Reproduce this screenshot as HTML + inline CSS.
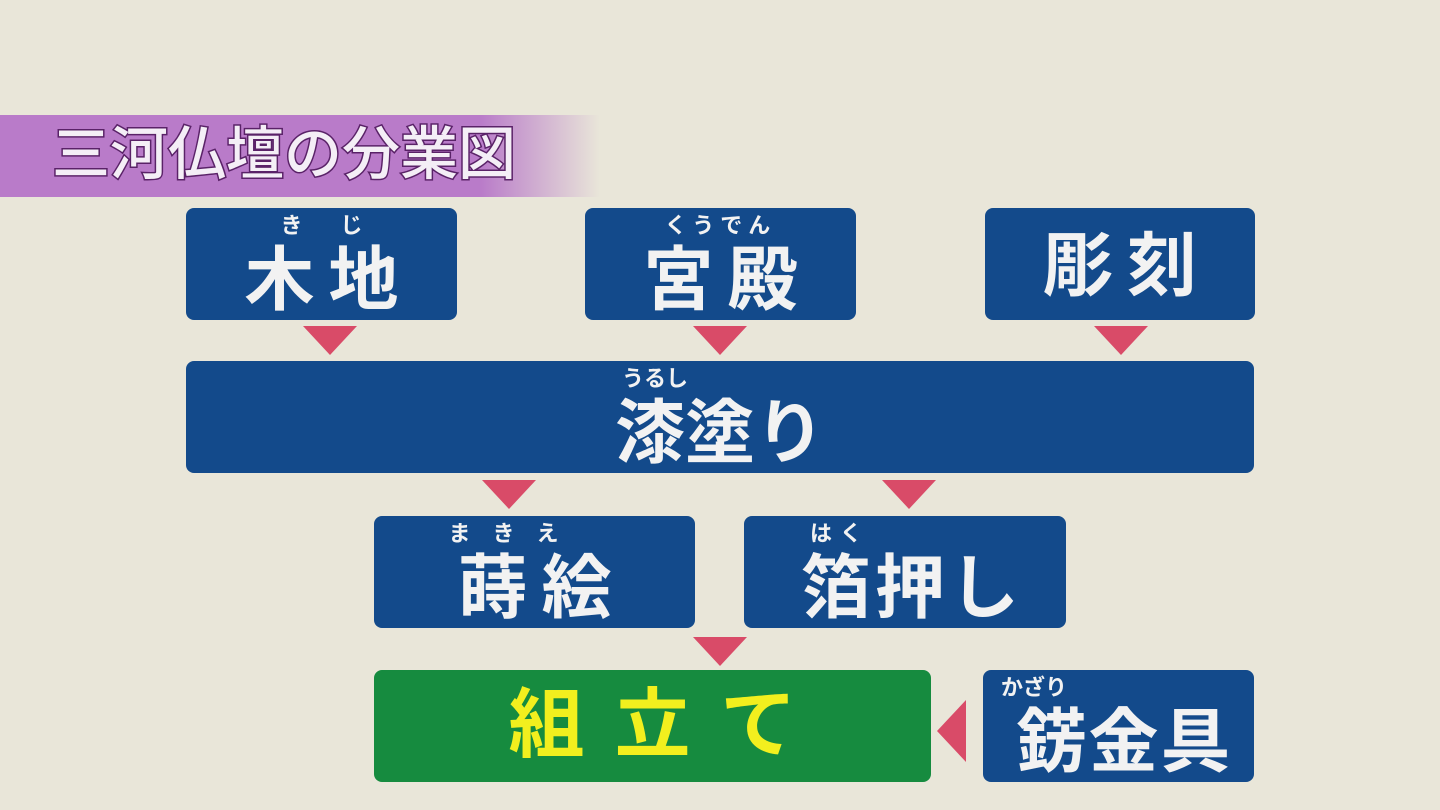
<!DOCTYPE html>
<html><head><meta charset="utf-8"><style>
body{margin:0;width:1440px;height:810px;background:#e9e6d9;position:relative;overflow:hidden;font-family:"Liberation Sans","Noto Sans CJK JP",sans-serif}
.band{position:absolute;left:0;top:115px;width:610px;height:82px;background:linear-gradient(90deg,#b97bc9 0,#b97bc9 480px,rgba(185,123,201,0) 600px)}
.title{position:absolute;left:52px;top:119px;font-size:58px;color:#f4eef6;font-weight:500;letter-spacing:0px;-webkit-text-stroke:3px #5a2268;paint-order:stroke fill;line-height:72px}
.b{position:absolute;background:#134a8b;border-radius:8px;color:#f2f2f2;text-align:center;font-weight:bold}
.b .m{position:absolute;left:0;right:0;top:32px;font-size:70px;line-height:80px;letter-spacing:14px;text-indent:14px}
.b .f{position:absolute;left:0;right:0;top:4px;font-size:22px;line-height:28px}
.g{background:#168b3f;color:#f2ef1e}
.t{position:absolute;width:0;height:0;border-left:27px solid transparent;border-right:27px solid transparent;border-top:29px solid #d94b68}
</style></head><body>
<div class="band"></div>
<div class="title">三河仏壇の分業図</div>

<div class="b" style="left:186px;top:208px;width:271px;height:112px"><div class="f" style="letter-spacing:38px;text-indent:38px">きじ</div><div class="m">木地</div></div>
<div class="b" style="left:585px;top:208px;width:271px;height:112px"><div class="f" style="letter-spacing:6px">くうでん</div><div class="m">宮殿</div></div>
<div class="b" style="left:985px;top:208px;width:270px;height:112px"><div class="m" style="top:18px">彫刻</div></div>
<div class="b" style="left:186px;top:361px;width:1068px;height:112px"><div class="f" style="left:-130px">うるし</div><div class="m" style="letter-spacing:0;text-indent:0">漆塗り</div></div>
<div class="b" style="left:374px;top:516px;width:321px;height:112px"><div class="f" style="letter-spacing:22px;text-indent:-40px">まきえ</div><div class="m">蒔絵</div></div>
<div class="b" style="left:744px;top:516px;width:322px;height:112px"><div class="f" style="letter-spacing:8px;text-indent:-130px">はく</div><div class="m" style="letter-spacing:4px">箔押し</div></div>
<div class="b g" style="left:374px;top:670px;width:557px;height:112px"><div class="m" style="top:16px;font-size:76px;letter-spacing:30px;text-indent:30px">組立て</div></div>
<div class="b" style="left:983px;top:670px;width:271px;height:112px"><div class="f" style="text-align:left;left:18px">かざり</div><div class="m" style="letter-spacing:2px;text-indent:12px">錺金具</div></div>

<div class="t" style="left:303px;top:326px"></div>
<div class="t" style="left:693px;top:326px"></div>
<div class="t" style="left:1094px;top:326px"></div>
<div class="t" style="left:482px;top:480px"></div>
<div class="t" style="left:882px;top:480px"></div>
<div class="t" style="left:693px;top:637px"></div>
<div style="position:absolute;left:937px;top:700px;width:0;height:0;border-top:31px solid transparent;border-bottom:31px solid transparent;border-right:29px solid #d94b68"></div>
</body></html>
